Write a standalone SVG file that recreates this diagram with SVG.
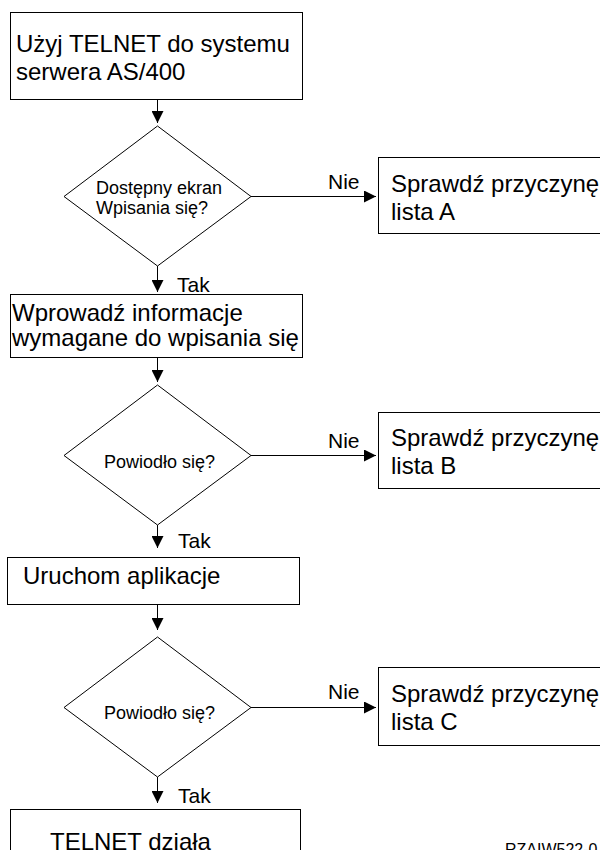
<svg xmlns="http://www.w3.org/2000/svg" width="600" height="850" viewBox="0 0 600 850">
<defs>
<style>
.box{fill:#fff;stroke:#000;stroke-width:1}
.t{font-family:"Liberation Sans",Arial,Helvetica,sans-serif;fill:#000}
.big{font-size:24px}
.dia{font-size:18px}
.lbl{font-size:21px}
.edge{fill:none;stroke:#000;stroke-width:1;marker-end:url(#ah)}
</style>
<marker id="ah" markerUnits="userSpaceOnUse" viewBox="0 0 12 12" refX="12" refY="6" markerWidth="12" markerHeight="12" orient="auto">
<path d="M0,0 L12,6 L0,12 z" fill="#000"/>
</marker>
</defs>
<rect width="600" height="850" fill="#fff"/>
<g id="connectors">
<path class="edge" d="M157.5,99 V123"/>
<path class="edge" d="M157.5,266 V292"/>
<path class="edge" d="M157.5,357 V382"/>
<path class="edge" d="M157.5,525 V548"/>
<path class="edge" d="M157.5,604 V630"/>
<path class="edge" d="M157.5,777 V803"/>
<path class="edge" d="M251,196.5 H376"/>
<path class="edge" d="M251,455.5 H376"/>
<path class="edge" d="M251,707.5 H376"/>
<text class="t lbl" x="328" y="189">Nie</text>
<text class="t lbl" x="328" y="448">Nie</text>
<text class="t lbl" x="328" y="699">Nie</text>
<text class="t lbl" x="177" y="292">Tak</text>
<text class="t lbl" x="178" y="548">Tak</text>
<text class="t lbl" x="178" y="803">Tak</text>
</g>
<g id="n1">
<rect class="box" x="10.5" y="12.5" width="292" height="87"/>
<text class="t big" x="16" y="52">Użyj TELNET do systemu</text>
<text class="t big" x="16" y="80">serwera AS/400</text>
</g>
<g id="d1">
<polygon class="box" points="157.5,126 251,196.5 157.5,266 64,196.5"/>
<text class="t dia" x="96" y="194">Dostępny ekran</text>
<text class="t dia" x="96" y="214">Wpisania się?</text>
</g>
<g id="rA">
<rect class="box" x="378.5" y="157.5" width="240" height="76"/>
<text class="t big" x="391" y="192">Sprawdź przyczynę</text>
<text class="t big" x="391" y="220">lista A</text>
</g>
<g id="n2">
<rect class="box" x="10.5" y="294.5" width="292" height="63"/>
<text class="t big" x="12" y="321">Wprowadź informacje</text>
<text class="t big" x="12" y="346">wymagane do wpisania się</text>
</g>
<g id="d2">
<polygon class="box" points="157.5,385 251,455.5 157.5,525 64,455.5"/>
<text class="t dia" x="104" y="468">Powiodło się?</text>
</g>
<g id="rB">
<rect class="box" x="378.5" y="412.5" width="240" height="76"/>
<text class="t big" x="391" y="446">Sprawdź przyczynę</text>
<text class="t big" x="391" y="474">lista B</text>
</g>
<g id="n3">
<rect class="box" x="7.5" y="557.5" width="292" height="47"/>
<text class="t big" x="23" y="584">Uruchom aplikacje</text>
</g>
<g id="d3">
<polygon class="box" points="157.5,637 251,707.5 157.5,777 64,707.5"/>
<text class="t dia" x="104" y="719">Powiodło się?</text>
</g>
<g id="rC">
<rect class="box" x="378.5" y="667.5" width="240" height="78"/>
<text class="t big" x="391" y="702">Sprawdź przyczynę</text>
<text class="t big" x="391" y="730">lista C</text>
</g>
<g id="n4">
<rect class="box" x="10.5" y="809.5" width="290" height="60"/>
<text class="t big" x="50" y="850">TELNET działa</text>
</g>
<text class="t" x="505" y="855" font-size="16">RZAIW522-0</text>
</svg>
